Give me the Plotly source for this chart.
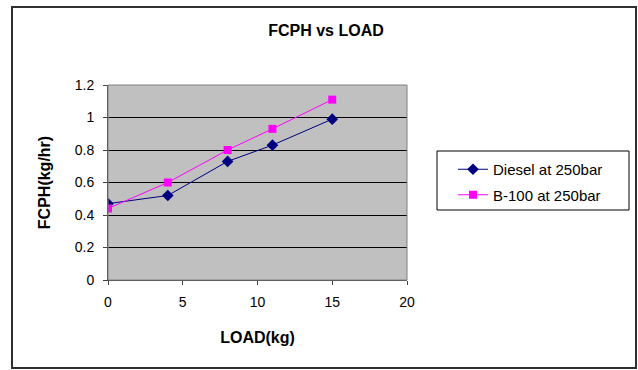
import plotly.graph_objects as go

# Fuel consumption per hour against engine load
load_diesel = [0, 4, 8, 11, 15]
fcph_diesel = [0.47, 0.52, 0.73, 0.83, 0.99]

load_b100 = [0, 4, 8, 11, 15]
fcph_b100 = [0.44, 0.60, 0.80, 0.93, 1.11]

x_ticks = [0, 5, 10, 15, 20]
y_ticks = [0, 0.2, 0.4, 0.6, 0.8, 1, 1.2]
y_tick_text = ["0", "0.2", "0.4", "0.6", "0.8", "1", "1.2"]

FONT = "Liberation Sans, Arial, sans-serif"

# plot area in pixels
PL, PR, PT, PB = 108, 407, 85, 280
PW, PH = PR - PL, PB - PT


def px_x(x):
    return (x - PL) / PW


def px_y(y):
    return (PB - y) / PH


fig = go.Figure()
fig.add_trace(go.Scatter(
    x=load_diesel, y=fcph_diesel, mode="lines+markers",
    name="Diesel at 250bar", legendgroup="d",
    line=dict(color="#000080", width=1),
    marker=dict(symbol="diamond", size=9, color="#000080"),
))
fig.add_trace(go.Scatter(
    x=load_b100, y=fcph_b100, mode="lines+markers",
    name="B-100 at 250bar", legendgroup="b",
    line=dict(color="#FF00FF", width=1),
    marker=dict(symbol="square", size=8, color="#FF00FF"),
))

fig.update_layout(
    width=638, height=370,
    margin=dict(l=PL, r=638 - PR, t=PT, b=370 - PB),
    paper_bgcolor="white",
    plot_bgcolor="#C0C0C0",
    font=dict(family=FONT, size=14, color="black"),
    title=dict(text="<b>FCPH vs LOAD</b>", x=326 / 638, xanchor="center",
               y=1 - 30 / 370, yanchor="middle",
               font=dict(size=16, family=FONT, color="black")),
    showlegend=True,
    legend=dict(x=px_x(453), y=px_y(153),
                xanchor="left", yanchor="top",
                bgcolor="rgba(0,0,0,0)", borderwidth=0,
                font=dict(size=15, family=FONT, color="black"),
                traceorder="grouped", tracegroupgap=3),
    xaxis=dict(range=[0, 20], tickvals=x_ticks, showgrid=False, zeroline=False,
               showline=True, linecolor="#404040", linewidth=1,
               ticks="outside", ticklen=4, tickcolor="#404040",
               ticklabelstandoff=5,
               title=dict(text="<b>LOAD(kg)</b>", font=dict(size=16), standoff=23)),
    yaxis=dict(range=[0, 1.2], tickvals=y_ticks, ticktext=y_tick_text,
               showgrid=True, gridcolor="black", gridwidth=1, zeroline=False,
               showline=True, linecolor="#404040", linewidth=1,
               ticks="outside", ticklen=4, tickcolor="#404040",
               ticklabelstandoff=6,
               title=dict(text="<b>FCPH(kg/hr)</b>", font=dict(size=16), standoff=20)),
    shapes=[
        # outer chart frame
        dict(type="rect", xref="paper", yref="paper",
             x0=px_x(12), x1=px_x(636), y0=px_y(368), y1=px_y(7),
             line=dict(color="#303030", width=2), layer="below"),
        # legend frame
        dict(type="rect", xref="paper", yref="paper",
             x0=px_x(437), x1=px_x(629), y0=px_y(210), y1=px_y(151),
             line=dict(color="black", width=1), fillcolor="white", layer="below"),
        # plot area border
        dict(type="rect", xref="paper", yref="paper", x0=0, x1=1, y0=0, y1=1,
             line=dict(color="#808080", width=1)),
    ],
)

fig.write_html("out.html")
